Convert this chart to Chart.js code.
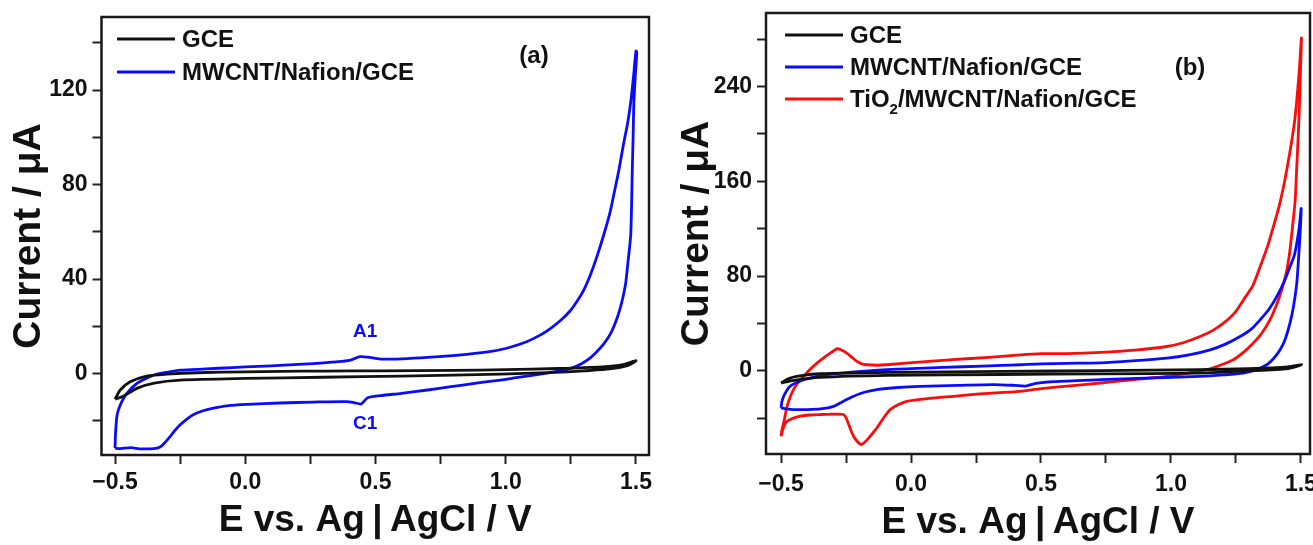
<!DOCTYPE html>
<html>
<head>
<meta charset="utf-8">
<script src="https://cdn.jsdelivr.net/npm/chart.js@4.4.1/dist/chart.umd.min.js"></script>
<style>
  body { margin: 0; background: #fff; }
  #wrap { position: relative; width: 1313px; height: 545px; overflow: hidden; }
  canvas { position: absolute; top: 0; }
  #chartA { left: 0; }
  #chartB { left: 656px; }
</style>
</head>
<body>
<div id="wrap">
  <canvas id="chartA" width="656" height="545"></canvas>
  <canvas id="chartB" width="657" height="545"></canvas>
</div>
<script>
// ---- data (E in V, I in uA) ----
// each CV loop: forward (upper) branch to 1.5 V, then back along the lower branch

// panel (a) GCE
const gceA_E = [-0.50, -0.48, -0.442, -0.378, -0.30, -0.186, 0.00, 0.135, 0.30, 0.52, 0.80, 1.00, 1.20, 1.37, 1.45, 1.50,
  1.47, 1.40, 1.30, 1.236, 1.10, 0.98, 0.80, 0.60, 0.30, 0.00, -0.25, -0.35, -0.416, -0.468, -0.50];
const gceA_I = [-10.8, -6.9, -3.4, -1.0, -0.2, 0.4, 0.8, 1.0, 1.1, 1.2, 1.4, 1.7, 2.2, 2.9, 3.8, 5.5,
  3.5, 2.0, 1.2, 0.8, 0.2, -0.2, -0.6, -1.0, -1.5, -2.0, -2.7, -4.0, -6.2, -9.5, -10.8];

// panel (a) MWCNT/Nafion/GCE
const mwcntA_E = [-0.50, -0.498, -0.493, -0.487, -0.474, -0.455, -0.416, -0.38, -0.352, -0.30, -0.25, -0.15, -0.05, 0.05, 0.15, 0.26, 0.35, 0.40, 0.44, 0.47, 0.52, 0.60, 0.70, 0.85, 0.95, 1.02, 1.08, 1.13, 1.17, 1.21, 1.245, 1.275, 1.30, 1.326, 1.35, 1.377, 1.40, 1.415, 1.435, 1.454, 1.468, 1.48, 1.49, 1.50,
  1.503, 1.497, 1.492, 1.489, 1.486, 1.48, 1.47, 1.46, 1.445, 1.429, 1.405, 1.377, 1.345, 1.313, 1.275, 1.236, 1.17, 1.108, 1.04, 0.98, 0.88, 0.79, 0.70, 0.60, 0.519, 0.47, 0.445, 0.42, 0.39, 0.262, 0.135, 0.007, -0.07, -0.122, -0.165, -0.20, -0.225, -0.25, -0.27, -0.288, -0.31, -0.327, -0.352, -0.40, -0.44, -0.48, -0.50];
const mwcntA_I = [-31.5, -25, -18.1, -15.3, -11.8, -8.3, -4.1, -2.0, -0.6, 0.6, 1.5, 2.0, 2.6, 3.1, 3.6, 4.3, 5.0, 5.6, 7.2, 7.0, 6.2, 6.3, 6.9, 8.2, 9.5, 11.3, 13.5, 16.2, 19.0, 22.5, 26.3, 30.9, 35.5, 42.1, 49.5, 59.0, 68, 75.8, 86.5, 98.2, 106, 115, 125, 136.5,
  136, 125, 115, 100, 87, 59, 48, 38, 30, 24, 17.5, 12.7, 8.8, 5.7, 3.3, 1.8, 0.5, -0.6, -1.7, -2.7, -4.1, -5.5, -6.9, -8.3, -9.3, -10.2, -12.8, -12.3, -11.8, -12.0, -12.4, -13.0, -13.6, -14.6, -15.8, -17.4, -19.3, -21.6, -24.0, -26.5, -29.3, -31.0, -31.7, -31.8, -31.3, -31.7, -31.5];

// panel (b) GCE
const gceB_E = [-0.50, -0.47, -0.44, -0.35, -0.09, 0.35, 0.73, 1.11, 1.30, 1.45, 1.503,
  1.45, 1.30, 1.11, 0.73, 0.35, -0.09, -0.35, -0.45, -0.50];
const gceB_I = [-10.2, -6.5, -4.6, -2.4, -1.2, -0.4, 0.3, 1.0, 2.0, 3.5, 5.2,
  2.0, 0.0, -1.8, -2.5, -3.0, -3.8, -5.5, -8.0, -10.2];

// panel (b) MWCNT/Nafion/GCE
const mwcntB_E = [-0.50, -0.497, -0.49, -0.478, -0.466, -0.44, -0.413, -0.37, -0.323, -0.25, -0.093, 0.05, 0.20, 0.35, 0.42, 0.50, 0.60, 0.728, 0.85, 0.984, 1.07, 1.151, 1.21, 1.266, 1.31, 1.343, 1.377, 1.407, 1.435, 1.458, 1.474, 1.484, 1.494, 1.501,
  1.497, 1.491, 1.484, 1.472, 1.458, 1.44, 1.42, 1.395, 1.369, 1.33, 1.279, 1.20, 1.112, 0.90, 0.728, 0.55, 0.48, 0.44, 0.40, 0.317, 0.18, 0.035, -0.05, -0.131, -0.18, -0.221, -0.26, -0.298, -0.349, -0.40, -0.452, -0.48, -0.50];
const mwcntB_I = [-31.2, -26, -21.4, -16.5, -13.0, -9.8, -7.4, -5.0, -3.2, -1.5, 1.0, 2.3, 3.5, 4.6, 5.2, 6.0, 6.4, 6.8, 8.4, 10.8, 13.6, 17.8, 22.6, 29.0, 35.5, 43.1, 52, 62.7, 75, 87.9, 97, 107.6, 122, 137,
  116, 95, 73.9, 55, 40.3, 27, 17.8, 10.5, 5.2, 1.2, -1.8, -3.4, -4.6, -6.0, -7.4, -9.0, -10.5, -12.8, -12.2, -11.5, -12.2, -13.0, -14.0, -15.8, -18.0, -21.4, -25.5, -29.9, -32.1, -32.6, -32.6, -32.0, -31.2];

// panel (b) TiO2/MWCNT/Nafion/GCE
const tio2B_E = [-0.50, -0.497, -0.49, -0.477, -0.465, -0.452, -0.435, -0.413, -0.39, -0.362, -0.335, -0.311, -0.295, -0.285, -0.27, -0.247, -0.225, -0.208, -0.19, -0.17, -0.13, -0.093, 0.03, 0.16, 0.30, 0.42, 0.50, 0.60, 0.73, 0.86, 0.984, 1.05, 1.112, 1.16, 1.202, 1.245, 1.279, 1.315, 1.343, 1.37, 1.394, 1.415, 1.433, 1.45, 1.465, 1.476, 1.484, 1.494, 1.502,
  1.497, 1.494, 1.49, 1.484, 1.478, 1.468, 1.458, 1.445, 1.426, 1.405, 1.381, 1.35, 1.317, 1.28, 1.24, 1.19, 1.138, 1.06, 0.984, 0.85, 0.728, 0.60, 0.493, 0.42, 0.253, 0.163, 0.07, -0.016, -0.05, -0.08, -0.10, -0.118, -0.138, -0.157, -0.175, -0.192, -0.205, -0.221, -0.235, -0.247, -0.26, -0.30, -0.349, -0.39, -0.426, -0.455, -0.477, -0.49, -0.50];
const tio2B_I = [-55.1, -50, -43.8, -29.9, -22, -15.8, -10, -4.6, 1.0, 6.6, 11.3, 15.0, 17.3, 18.7, 17.8, 15.0, 11.0, 8.0, 6.0, 5.2, 4.8, 5.2, 7.5, 9.5, 11.5, 13.6, 14.6, 14.6, 15.6, 17.5, 20.6, 24.0, 29.0, 34.0, 40.3, 49.0, 59.9, 72.0, 87.9, 104, 121.6, 138, 155.2, 175, 194.5, 211, 228.1, 254, 281,
  242, 222, 200, 172, 144, 122, 102, 84, 68.3, 55, 43.1, 32, 23.5, 15.8, 9.4, 4.8, 1.0, -2.0, -4.6, -7.5, -10.2, -12.8, -15.2, -17.2, -19.6, -21.4, -23.2, -25.6, -28.5, -32.6, -38, -43.8, -50, -55.1, -59.5, -62.1, -60, -55.1, -48, -41.0, -36.8, -36.5, -36.8, -37.2, -38.2, -40, -42.5, -47, -55.1];

const seriesLabels = ["GCE", "MWCNT/Nafion/GCE", "TiO2/MWCNT/Nafion/GCE"];
const seriesColors = ["#111111", "#0a0aff", "#ff0a0a"];

const xTicks = [-0.5, -0.25, 0, 0.25, 0.5, 0.75, 1, 1.25, 1.5];
const xTickLabels = ["\u22120.5", "", "0.0", "", "0.5", "", "1.0", "", "1.5"];
const yTicksA = [-20, 0, 20, 40, 60, 80, 100, 120, 140];
const yTickLabelsA = ["", "0", "", "40", "", "80", "", "120", ""];
const yTicksB = [-40, 0, 40, 80, 120, 160, 200, 240, 280];
const yTickLabelsB = ["", "0", "", "80", "", "160", "", "240", ""];

const FONT = "'Liberation Sans', Arial, sans-serif";

function toPoints(E, I) {
  return E.map((e, i) => ({ x: e, y: I[i] }));
}

// TiO2 gets a real subscript 2
function drawLabel(ctx, text, x, y) {
  const m = text.match(/^(TiO)(2)(.*)$/);
  if (!m) {
    ctx.fillText(text, x, y);
    return;
  }
  const base = ctx.font;
  ctx.fillText(m[1], x, y);
  let w = ctx.measureText(m[1]).width;
  ctx.font = "bold 15px " + FONT;
  ctx.fillText(m[2], x + w, y + 10);
  w += ctx.measureText(m[2]).width;
  ctx.font = base;
  ctx.fillText(m[3], x + w, y);
}

// frame, in-plot legend, panel tag and peak names
const panelDecor = {
  id: "panelDecor",
  afterDatasetsDraw(chart, args, opts) {
    const { ctx, chartArea: a, scales } = chart;
    ctx.save();
    ctx.strokeStyle = "#1a1a1a";
    ctx.lineWidth = 2.5;
    ctx.strokeRect(a.left, a.top, a.right - a.left, a.bottom - a.top);

    ctx.font = "bold 24px " + FONT;
    ctx.textBaseline = "middle";
    ctx.textAlign = "left";
    chart.data.datasets.forEach((ds, i) => {
      const y = opts.legendY + i * opts.legendGap;
      ctx.strokeStyle = ds.borderColor;
      ctx.lineWidth = 3;
      ctx.beginPath();
      ctx.moveTo(opts.legendX, y);
      ctx.lineTo(opts.legendX + 58, y);
      ctx.stroke();
      ctx.fillStyle = "#111";
      drawLabel(ctx, ds.label, opts.legendX + 65, y + 1);
    });

    ctx.textAlign = "center";
    ctx.fillStyle = "#111";
    ctx.fillText(opts.tag, opts.tagX, opts.tagY);

    ctx.font = "bold 19px " + FONT;
    (opts.notes || []).forEach((n) => {
      ctx.fillStyle = n.color;
      ctx.fillText(n.text, scales.x.getPixelForValue(n.x), scales.y.getPixelForValue(n.y));
    });
    ctx.restore();
  },
};

function makeDataset(label, color, E, I) {
  return {
    label: label,
    data: toPoints(E, I),
    showLine: true,
    borderColor: color,
    backgroundColor: color,
    borderWidth: 2.8,
    pointRadius: 0,
    tension: 0.25,
  };
}

function makeChart(canvasId, datasets, cfg) {
  const tickGrid = {
    drawOnChartArea: false,
    drawTicks: true,
    tickLength: 9,
    tickWidth: 2,
    tickColor: "#222",
  };
  return new Chart(document.getElementById(canvasId), {
    type: "scatter",
    data: { datasets: datasets },
    plugins: [panelDecor],
    options: {
      responsive: false,
      animation: false,
      layout: { padding: cfg.padding },
      plugins: {
        legend: { display: false },
        tooltip: { enabled: false },
        panelDecor: cfg.decor,
      },
      scales: {
        x: {
          type: "linear",
          min: cfg.xMin,
          max: cfg.xMax,
          afterBuildTicks: (s) => { s.ticks = xTicks.map((v) => ({ value: v })); },
          afterFit: (s) => {
            s.height = cfg.xAxisHeight;
            // let the end labels hang over the edge, like the original
            s.paddingLeft = 0;
            s.paddingRight = 0;
          },
          ticks: {
            autoSkip: false,
            maxRotation: 0,
            padding: cfg.xTickPad,
            color: "#111",
            font: { family: FONT, size: 23, weight: "bold" },
            callback: (v, i) => xTickLabels[i],
          },
          grid: tickGrid,
          border: { display: false },
          title: {
            display: true,
            text: "E vs. Ag\u2009|\u2009AgCl / V",
            color: "#111",
            font: { family: FONT, size: 37, weight: "bold" },
            padding: { top: 0, bottom: cfg.xTitlePad },
          },
        },
        y: {
          type: "linear",
          min: cfg.yMin,
          max: cfg.yMax,
          afterBuildTicks: (s) => { s.ticks = cfg.yTicks.map((v) => ({ value: v })); },
          afterFit: (s) => {
            s.width = cfg.yAxisWidth;
            s.paddingTop = 0;
            s.paddingBottom = 0;
          },
          ticks: {
            autoSkip: false,
            padding: 5,
            color: "#111",
            font: { family: FONT, size: 23, weight: "bold" },
            callback: (v, i) => cfg.yTickLabels[i],
          },
          grid: tickGrid,
          border: { display: false },
          title: {
            display: true,
            text: "Current / \u03bcA",
            color: "#111",
            font: { family: FONT, size: 39, weight: "bold" },
            padding: { top: cfg.yTitlePad, bottom: 0 },
          },
        },
      },
    },
  });
}

makeChart("chartA", [
  makeDataset(seriesLabels[0], seriesColors[0], gceA_E, gceA_I),
  makeDataset(seriesLabels[1], seriesColors[1], mwcntA_E, mwcntA_I),
], {
  padding: { left: 0, right: 7, top: 17, bottom: 0 },
  xMin: -0.552, xMax: 1.55, yMin: -34.4, yMax: 150.9,
  yTicks: yTicksA, yTickLabels: yTickLabelsA,
  xAxisHeight: 90, yAxisWidth: 101.5, xTickPad: 5, xTitlePad: 2, yTitlePad: 6,
  decor: {
    legendX: 117, legendY: 39, legendGap: 33,
    tag: "(a)", tagX: 534, tagY: 56,
    notes: [
      { text: "A1", x: 0.46, y: 17.6, color: "#0a0aff" },
      { text: "C1", x: 0.46, y: -21.3, color: "#0a0aff" },
    ],
  },
});

makeChart("chartB", [
  makeDataset(seriesLabels[0], seriesColors[0], gceB_E, gceB_I),
  makeDataset(seriesLabels[1], seriesColors[1], mwcntB_E, mwcntB_I),
  makeDataset(seriesLabels[2], seriesColors[2], tio2B_E, tio2B_I),
], {
  padding: { left: 0, right: 3, top: 13, bottom: 0 },
  xMin: -0.558, xMax: 1.535, yMin: -70.1, yMax: 302,
  yTicks: yTicksB, yTickLabels: yTickLabelsB,
  xAxisHeight: 91, yAxisWidth: 110, xTickPad: 8, xTitlePad: 0, yTitlePad: 18,
  decor: {
    legendX: 129, legendY: 35, legendGap: 32,
    tag: "(b)", tagX: 534, tagY: 68,
  },
});
</script>
</body>
</html>
